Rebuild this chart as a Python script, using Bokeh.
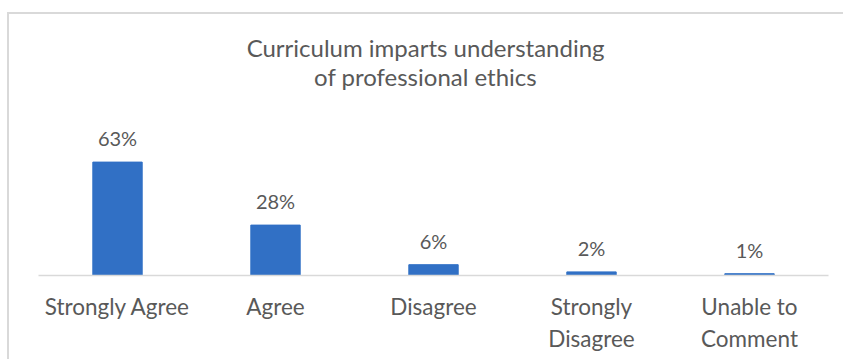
from bokeh.plotting import figure
from bokeh.models import ColumnDataSource, Range1d, FactorRange, Label
from bokeh.core.properties import value
from bokeh.embed import file_html
from bokeh.resources import INLINE

categories = ["Strongly Agree", "Agree", "Disagree", "Strongly\nDisagree", "Unable to\nComment"]
percent = [63, 28, 6, 2, 1]
labels = [f"{v}%" for v in percent]
title_lines = ["Curriculum imparts understanding", "of professional ethics"]

FONT = "Lato"
TEXT = "#595959"
BAR = "#3170C5"
GRID = "#D9D9D9"

src = ColumnDataSource(dict(cat=categories, pct=percent, lab=labels))

p = figure(width=836, height=347, output_backend="svg", toolbar_location=None,
           x_range=FactorRange(*categories, range_padding=0),
           y_range=Range1d(0, 145),
           min_border_left=29, min_border_right=17, min_border_top=0, min_border_bottom=86)
p.styles = {"margin-left": "7px", "margin-top": "12px",
            "border-left": "2px solid #D9D9D9", "border-top": "2px solid #D9D9D9"}
p.outline_line_color = None
p.xgrid.visible = False
p.ygrid.visible = False
p.yaxis.visible = False
p.background_fill_color = "white"
p.border_fill_color = "white"

p.vbar(x="cat", top="pct", width=0.3125, source=src, color=BAR)
p.text(x="cat", y="pct", text="lab", source=src, y_offset=-24,
       text_align="center", text_baseline="middle",
       text_font=value(FONT), text_font_size="20px", text_color=TEXT)

ax = p.xaxis[0]
ax.axis_line_color = GRID
ax.axis_line_width = 1.5
ax.major_tick_line_color = None
ax.minor_tick_line_color = None
ax.major_label_standoff = 11
ax.major_label_text_font = FONT
ax.major_label_text_font_size = "22.5px"
ax.major_label_text_color = TEXT
ax.major_label_text_line_height = 1.2

for yv, t in zip([126.4, 110.3], title_lines):
    p.add_layout(Label(x=2.45, y=yv, text=t, text_align="center", text_baseline="middle",
                       text_font=FONT, text_font_size="24px", text_color=TEXT))

open("out.html", "w").write(file_html(p, INLINE))
